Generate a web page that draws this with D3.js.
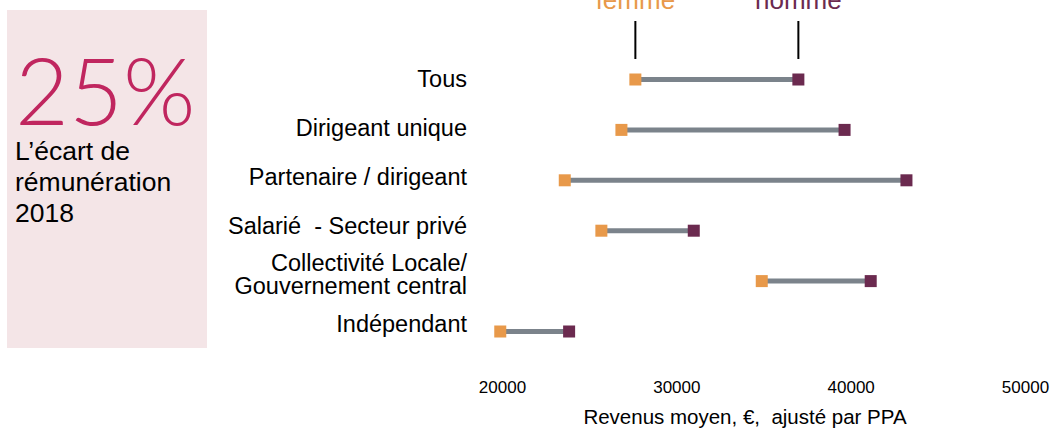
<!DOCTYPE html>
<html>
<head>
<meta charset="utf-8">
<script src="https://cdn.jsdelivr.net/npm/d3@7"></script>
<style>
  body { margin: 0; background: #fff; }
  svg { display: block; font-family: "Liberation Sans", Arial, sans-serif; }
  text { white-space: pre; }
</style>
</head>
<body>
<svg id="canvas"></svg>
<script>
// data
const categories = ['Tous', 'Dirigeant unique', 'Partenaire / dirigeant', 'Salarié  - Secteur privé', 'Collectivité Locale/\nGouvernement central', 'Indépendant']
const femme = [27650, 26850, 23600, 25700, 34900, 19900]
const homme = [37000, 39650, 43200, 31000, 41150, 23850]
const xTicks = [20000, 30000, 40000, 50000]
const seriesNames = ['femme', 'homme']

let width = 1052
let height = 428

const svg = d3.select('#canvas')
  .attr('width', width)
  .attr('height', height)

const xScale = d3.scaleLinear()
  .domain([20000, 50000])
  .range([502, 1025])

// rows for the dumbbells
const yScale = d3.scalePoint()
  .domain(categories)
  .range([79.5, 331.5])

// rows for the labels (slightly off the marks in the original)
const labelScale = d3.scalePoint()
  .domain(categories)
  .range([78, 323])

const colors = { femme: '#e8994a', homme: '#6b2a4f' }

// left panel
svg.append('rect')
  .attr('x', 7).attr('y', 10)
  .attr('width', 200).attr('height', 338)
  .attr('fill', '#f4e5e7')

svg.append('text')
  .attr('x', 15).attr('y', 125)
  .attr('font-family', 'Lato, "Liberation Sans", sans-serif')
  .attr('font-weight', 300)
  .attr('font-size', 93)
  .attr('fill', '#c0265f')
  .text('25%')

const panelLines = ['L’écart de', 'rémunération', '2018']
svg.append('g').selectAll('text')
  .data(panelLines)
  .enter()
  .append('text')
  .attr('x', 15)
  .attr('y', (d, i) => 160 + i * 31)
  .attr('font-size', 26.5)
  .attr('fill', '#000')
  .text(d => d)

// category labels
const labels = svg.append('g').selectAll('text')
  .data(categories)
  .enter()
  .append('text')
  .attr('text-anchor', 'end')
  .attr('font-size', 23.5)
  .attr('fill', '#000')
  .attr('x', 467)
  .attr('y', d => labelScale(d))

labels.each(function (d) {
  const parts = d.split('\n')
  const t = d3.select(this)
  parts.forEach((p, i) => {
    t.append('tspan')
      .attr('x', 467)
      .attr('dy', i === 0 ? (8.5 - (parts.length - 1) * 11.5) : 23)
      .text(p)
  })
})

// connecting lines
svg.append('g').selectAll('line')
  .data(categories)
  .enter()
  .append('line')
  .attr('x1', (d, i) => xScale(femme[i]))
  .attr('x2', (d, i) => xScale(homme[i]))
  .attr('y1', d => yScale(d))
  .attr('y2', d => yScale(d))
  .attr('stroke', '#7b838b')
  .attr('stroke-width', 5)

// markers
const size = 12
seriesNames.forEach(name => {
  const vals = name === 'femme' ? femme : homme
  svg.append('g').selectAll('rect')
    .data(categories)
    .enter()
    .append('rect')
    .attr('x', (d, i) => xScale(vals[i]) - size / 2)
    .attr('y', d => yScale(d) - size / 2)
    .attr('width', size)
    .attr('height', size)
    .attr('fill', colors[name])
})

// legend on top of the first row
seriesNames.forEach(name => {
  const vals = name === 'femme' ? femme : homme
  const lx = xScale(vals[0])
  svg.append('text')
    .attr('x', lx)
    .attr('y', 9)
    .attr('text-anchor', 'middle')
    .attr('font-size', 26)
    .attr('fill', colors[name])
    .text(name)
  svg.append('line')
    .attr('x1', lx).attr('x2', lx)
    .attr('y1', 21).attr('y2', 59)
    .attr('stroke', '#000')
    .attr('stroke-width', 2)
})

// x axis
const xAxis = d3.axisBottom(xScale)
  .tickValues(xTicks)
  .tickSize(0)
  .tickPadding(0)
  .tickFormat(d3.format('d'))

const axisG = svg.append('g')
  .attr('transform', 'translate(0, 381)')
  .call(xAxis)
axisG.select('.domain').remove()
axisG.selectAll('text')
  .attr('font-family', '"Liberation Sans", Arial, sans-serif')
  .attr('font-size', 17)
  .attr('fill', '#000')

svg.append('text')
  .attr('x', 745)
  .attr('y', 424)
  .attr('text-anchor', 'middle')
  .attr('font-size', 20.5)
  .attr('fill', '#000')
  .text('Revenus moyen, €,  ajusté par PPA')
</script>
</body>
</html>
